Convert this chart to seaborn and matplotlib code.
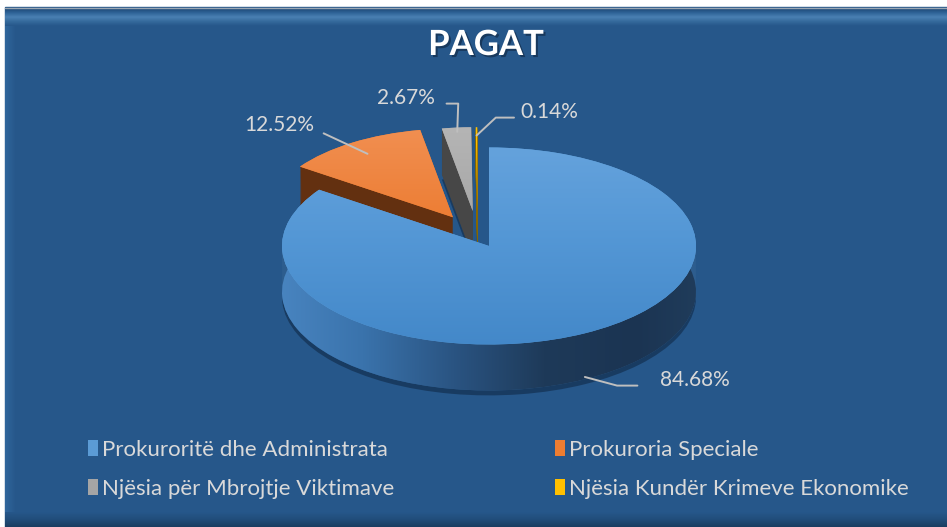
import numpy as np
import matplotlib
matplotlib.use("Agg")
import matplotlib.pyplot as plt
import matplotlib.patheffects as pe
from matplotlib.patches import Rectangle, Patch
from matplotlib.colors import LinearSegmentedColormap
import seaborn as sns

categories = ["Prokuroritë dhe Administrata", "Prokuroria Speciale",
              "Njësia për Mbrojtje Viktimave", "Njësia Kundër Krimeve Ekonomike"]
shares = [84.68, 12.52, 2.67, 0.14]
labels = ["84.68%", "12.52%", "2.67%", "0.14%"]

top_colors = ["#5B9BD5", "#ED7D31", "#A5A5A5", "#FFC000"]
side_colors = ["#2D5D8E", "#633010", "#474747", "#8C6A00"]
explode = [0.12, 0.22, 0.25, 0.25]
radius_scale = [1.0, 0.9, 0.85, 0.85]

sns.set_theme(style="white")
plt.rcParams["font.family"] = ["Lato", "DejaVu Sans"]

W, H = 947, 527
fig = plt.figure(figsize=(W / 100, H / 100), dpi=100, facecolor="white")

# background panel, pixel coordinates
bg = fig.add_axes([0, 0, 1, 1], zorder=0)
bg.set_xlim(0, W)
bg.set_ylim(H, 0)
bg.axis("off")
panel = "#26578A"
bg.add_patch(Rectangle((5, 7), W - 5, H - 7, color=panel))
bg.plot([5, W], [7.5, 7.5], color="#9AA6B2", lw=1)

def band(x0, x1, y0, y1, cols, vertical=True):
    cmap = LinearSegmentedColormap.from_list("b", cols)
    g = np.linspace(0, 1, 64)
    g = g[:, None] if vertical else g[None, :]
    bg.imshow(g, cmap=cmap, extent=(x0, x1, y1, y0), aspect="auto", zorder=1)

band(5, W, 8, 26, ["#1D4673", "#2D6296", "#4A80B3", "#356A9C", panel])
band(5, 16, 26, 515, ["#30669C", panel], vertical=False)
band(5, W, 512, 527, [panel, "#214D7A", "#1A3D60"])
bg.set_xlim(0, W)
bg.set_ylim(H, 0)

# pie axes: unit circle -> ellipse rx x ry pixels
cx, cy = 477.5, 235.5
rx, ry = 207, 98.5
lp, rp, tp, bp = 200, 760, 80, 430
ax = fig.add_axes([lp / W, 1 - bp / H, (rp - lp) / W, (bp - tp) / H], zorder=1)
depth = 46 / ry


def draw_layer(z, colors, zo):
    wedges, _ = ax.pie(shares, explode=explode, colors=colors, startangle=90,
                       counterclock=False, center=(0, -z),
                       wedgeprops=dict(linewidth=0, zorder=zo))
    for w, s in zip(wedges, radius_scale):
        w.set_radius(s)
    return wedges


# drop shadow under the pie
shadow = draw_layer(depth + 0.05, ["#0E2440"] * 4, 1.5)
for w in shadow:
    w.set_alpha(0.55)

bottom = None
for z in np.linspace(depth, 0, 46)[:-1]:
    ws = draw_layer(z, side_colors, 2)
    if bottom is None:
        bottom = ws

xl = ((lp - cx) / rx, (rp - cx) / rx)
yl = (-(bp - cy) / ry, (cy - tp) / ry)

# shading of the blue side wall, dark towards the right
side_cmap = LinearSegmentedColormap.from_list(
    "side", ["#4A86C2", "#3A73AC", "#2A5482", "#1E3A59", "#1B3452", "#22405F"])
im = ax.imshow(np.linspace(0, 1, 256)[None, :], cmap=side_cmap,
               extent=(-1.0, 1.2, yl[0], yl[1]), aspect="auto", zorder=3)
im.set_clip_path(bottom[0])

top = draw_layer(0, top_colors, 4)

grads = [["#6CA7DF", "#5598D6", "#4287C8"],
         ["#F29358", "#EC7B30", "#E56E1E"],
         ["#B8B8B8", "#A5A5A5", "#989898"]]
for w, cols in zip(top[:3], grads):
    cm = LinearSegmentedColormap.from_list("t", cols)
    timg = ax.imshow(np.linspace(0, 1, 256)[:, None], cmap=cm,
                     extent=(xl[0], xl[1], -1.2, 1.3), aspect="auto", zorder=5)
    timg.set_clip_path(w)

ax.set_xlim(*xl)
ax.set_ylim(*yl)
ax.set_aspect("auto")
ax.axis("off")

# data labels with leader lines
label_pos = [(695, 380), (279, 125), (406, 98), (549, 112)]
label_side = ["right", "left", "left", "right"]
angle_b = [-15, -25, 88, 43]
reach = [1.0, 0.85, 0.95, 0.9]
gap = [14, 5, 6, 2]
for i, w in enumerate(top):
    mid = np.deg2rad((w.theta1 + w.theta2) / 2)
    tx = w.center[0] + reach[i] * w.r * np.cos(mid)
    ty = w.center[1] + reach[i] * w.r * np.sin(mid)
    if i == 0:
        ty -= depth * 0.95
    px, py = label_pos[i]
    rel = (0, 0.22) if label_side[i] == "right" else (1, 0.22)
    ax.annotate(labels[i], xy=(tx, ty), xycoords="data",
                xytext=(px, py), textcoords=bg.transData,
                ha="center", va="center", fontsize=15, color="#D9D9D9",
                zorder=7, annotation_clip=False,
                arrowprops=dict(arrowstyle="-", color="#BFBFBF", lw=1.4,
                                relpos=rel, shrinkA=gap[i], shrinkB=0,
                                connectionstyle=f"angle,angleA=0,angleB={angle_b[i]},rad=0"))

fig.text(486 / W, 1 - 45 / H, "PAGAT", ha="center", va="center",
         fontsize=25, fontweight="bold", color="white",
         path_effects=[pe.withSimplePatchShadow(offset=(1.5, -1.5), shadow_rgbFace="#0F2540", alpha=0.6)])

order = [0, 2, 1, 3]
handles = [Patch(facecolor=top_colors[i], edgecolor="none") for i in order]
leg = fig.legend(handles, [categories[i] for i in order], ncol=2,
                 loc="upper left", bbox_to_anchor=(88 / W, 1 - 440 / H),
                 borderpad=0, borderaxespad=0,
                 frameon=False, fontsize=16, labelcolor="#D9D9D9",
                 handlelength=0.45, handleheight=0.75, handletextpad=0.2,
                 columnspacing=7.2, labelspacing=0.85)

fig.savefig("out.png", dpi=100, facecolor="white")
